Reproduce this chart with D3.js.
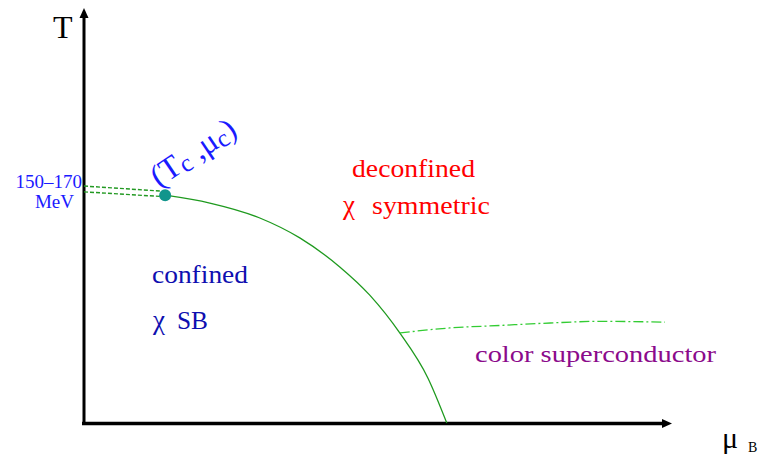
<!DOCTYPE html>
<html>
<head>
<meta charset="utf-8">
<script src="https://cdn.jsdelivr.net/npm/d3@7"></script>
<style>
	html, body { margin: 0; padding: 0; background: #fff; }
</style>
</head>
<body>
<div id="chart"></div>
<script>
// phase diagram, arbitrary units: mu (x) 0..100, T (y) 0..100

var serif = "'Liberation Serif', 'Times New Roman', Times, 'DejaVu Serif', serif";

// solid transition line, from the critical point down to the mu axis
var transMu = [13.8, 21.4, 29.9, 36.7, 43.5, 48.6, 53.7, 58.5, 61.7];
var transT  = [54.9, 53.0, 49.4, 44.6, 37.6, 30.8, 21.7, 10.8, 0];

// crossover band (two dashed lines from the T axis to the critical point)
var crossMu    = [0, 12.9];
var crossTHigh = [57.1, 55.9];
var crossTLow  = [55.7, 54.6];

// colour superconductor boundary (dash-dot)
var cscMu = [53.7, 62.2, 70.7, 79.3, 87.8, 98.8];
var cscT  = [21.7, 22.9, 23.5, 24.1, 24.5, 24.3];

// critical point
var critMu = 13.8, critT = 54.9;

var width = 761, height = 455;

var x = d3.scaleLinear().domain([0, 100]).range([84, 672]);
var y = d3.scaleLinear().domain([0, 100]).range([423, 8]);

var svg = d3.select("#chart").append("svg")
		.attr("width", width)
		.attr("height", height)
		.style("display", "block");

function zip(xs, ys){
	return xs.map(function(v, i){ return [v, ys[i]]; });
}

var line = d3.line()
		.x(function(d){ return x(d[0]); })
		.y(function(d){ return y(d[1]); });

//// axes (plain lines with arrow heads, no ticks)
svg.append("line")
	.attr("x1", x(0)).attr("y1", y(0) + 2)
	.attr("x2", x(0)).attr("y2", y(100) + 9)
	.attr("stroke", "#000").attr("stroke-width", 3);
svg.append("path")
	.attr("d", "M" + x(0) + "," + y(100) + "l-4.5,10h9z")
	.attr("fill", "#000");

svg.append("line")
	.attr("x1", x(0) - 2).attr("y1", y(0) + 0.5)
	.attr("x2", x(100) - 9).attr("y2", y(0) + 0.5)
	.attr("stroke", "#000").attr("stroke-width", 3.5);
svg.append("path")
	.attr("d", "M" + x(100) + "," + (y(0) + 0.5) + "l-10,-4.5v9z")
	.attr("fill", "#000");

//// lines
svg.append("path")
	.datum(zip(crossMu, crossTHigh))
	.attr("d", line)
	.attr("fill", "none").attr("stroke", "#229922")
	.attr("stroke-width", 1.4).attr("stroke-dasharray", "4,2");
svg.append("path")
	.datum(zip(crossMu, crossTLow))
	.attr("d", line)
	.attr("fill", "none").attr("stroke", "#229922")
	.attr("stroke-width", 1.4).attr("stroke-dasharray", "4,2");

svg.append("path")
	.datum(zip(transMu, transT))
	.attr("d", line.curve(d3.curveMonotoneX))
	.attr("fill", "none").attr("stroke", "#1f9a1f")
	.attr("stroke-width", 1.3);

svg.append("path")
	.datum(zip(cscMu, cscT))
	.attr("d", line.curve(d3.curveMonotoneX))
	.attr("fill", "none").attr("stroke", "#33cc33")
	.attr("stroke-width", 1.3).attr("stroke-dasharray", "10,3,2,3");

svg.append("circle")
	.attr("cx", x(critMu)).attr("cy", y(critT))
	.attr("r", 6)
	.attr("fill", "#11958c");

//// labels
function label(txt, px, py, size, color, len){
	var t = svg.append("text")
		.attr("x", px).attr("y", py)
		.attr("font-family", serif)
		.attr("font-size", size)
		.attr("fill", color)
		.text(txt);
	if (len) t.attr("textLength", len).attr("lengthAdjust", "spacingAndGlyphs");
	return t;
}

label("T", 53, 38, 32, "#000");
label("μ", 722, 448, 30, "#000");
label("B", 748, 452, 14, "#000");

label("150–170", 82, 188, 19, "#1a1aff").attr("text-anchor", "end");
label("MeV", 74, 208, 19, "#1a1aff").attr("text-anchor", "end");

label("deconfined", 352, 177, 25, "#ff0000", 123);
label("χ", 343, 214, 27, "#ff0000");
label("symmetric", 372, 214, 25, "#ff0000", 118);

label("confined", 152, 283, 25, "#0f0fb0", 96);
label("χ", 153, 329, 27, "#0f0fb0");
label("SB", 177, 329, 25, "#0f0fb0", 31);

label("color superconductor", 475, 362, 23, "#8b0a8b", 241);

// (Tc, mu_c) next to the critical point, tilted
var tc = svg.append("text")
	.attr("transform", "translate(159,188) rotate(-34)")
	.attr("font-family", serif)
	.attr("font-size", 32)
	.attr("fill", "#1a1aff");
tc.append("tspan").text("(T");
tc.append("tspan").attr("font-size", 25).attr("dy", 3).text("c");
tc.append("tspan").attr("dy", -3).text(" ,μ");
tc.append("tspan").attr("font-size", 25).attr("dy", 3).text("c");
tc.append("tspan").attr("dy", -3).text(")");
</script>
</body>
</html>
